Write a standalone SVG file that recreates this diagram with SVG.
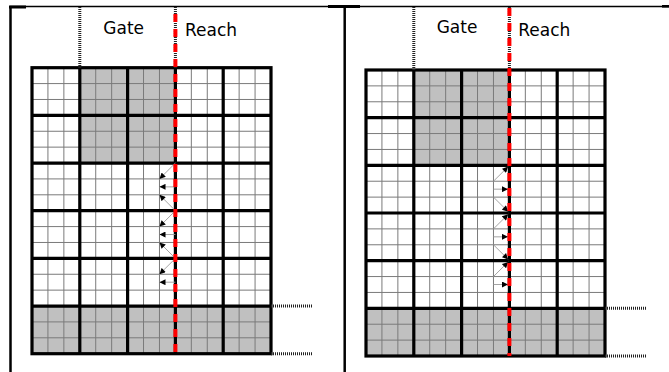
<svg xmlns="http://www.w3.org/2000/svg" width="669" height="372" viewBox="0 0 669 372">
<style>
.minor{stroke:#7a7a7a;stroke-width:1;fill:none}
.major{stroke:#000;stroke-width:3.2;fill:none}
.dot{stroke:#222;stroke-width:3;stroke-dasharray:1 1;fill:none}
.red{stroke:#ff0000;stroke-width:4;stroke-dasharray:8 7;fill:none}
.frame{stroke:#000;fill:none}
.arr{stroke:#9a9a9a;stroke-width:0.9;marker-end:url(#ah)}
.lbl{font-family:"DejaVu Sans",sans-serif;font-size:17px;fill:#000}
</style>
<defs>
<marker id="ah" viewBox="0 0 10 10" refX="10" refY="5" markerWidth="7" markerHeight="6" orient="auto" markerUnits="userSpaceOnUse">
<path d="M0,0 L10,5 L0,10 z" fill="#000"/>
</marker>
<g id="grid">
<rect x="47.8" y="0" width="95.6" height="95.33" fill="#c0c0c0"/>
<rect x="0" y="238.33" width="239" height="47.67" fill="#c0c0c0"/>
<path class="minor" d="M15.93,0V286 M31.87,0V286 M63.73,0V286 M79.67,0V286 M111.53,0V286 M127.47,0V286 M159.33,0V286 M175.27,0V286 M207.13,0V286 M223.07,0V286 M0,15.89H239 M0,31.78H239 M0,63.56H239 M0,79.44H239 M0,111.22H239 M0,127.11H239 M0,158.89H239 M0,174.78H239 M0,206.56H239 M0,222.44H239 M0,254.22H239 M0,270.11H239"/>
<path class="major" d="M47.8,0V286 M95.6,0V286 M143.4,0V286 M191.2,0V286 M0,47.67H239 M0,95.33H239 M0,143H239 M0,190.67H239 M0,238.33H239"/>
<rect class="major" x="0" y="0" width="239" height="286"/>
</g>
</defs>

<g id="frame">
<path class="frame" stroke-width="1.6" d="M10,6.5H669"/>
<rect x="9" y="5.5" width="17" height="3" fill="#000"/>
<rect x="328" y="5" width="32" height="3" fill="#000"/>
<rect x="662" y="5" width="7" height="2.6" fill="#000"/>
<path class="frame" stroke-width="2.5" d="M10.5,6V372"/>
<path class="frame" stroke-width="2.5" d="M344.7,7V372"/>
</g>

<g id="left-panel">
<use href="#grid" transform="translate(32,67.7)"/>
<path class="dot" d="M79.8,7V67.7 M175.4,7V67.7 M271,306H312 M271,353.7H312"/>
<g id="left-arrows" transform="translate(32,67.7)">
<line class="arr" x1="143.4" y1="95.33" x2="127.47" y2="111.22"/>
<line class="arr" x1="143.4" y1="119.17" x2="127.47" y2="119.17"/>
<line class="arr" x1="143.4" y1="143" x2="127.47" y2="127.11"/>
<line class="arr" x1="143.4" y1="143" x2="127.47" y2="158.89"/>
<line class="arr" x1="143.4" y1="166.83" x2="127.47" y2="166.83"/>
<line class="arr" x1="143.4" y1="190.67" x2="127.47" y2="174.78"/>
<line class="arr" x1="143.4" y1="190.67" x2="127.47" y2="206.56"/>
<line class="arr" x1="143.4" y1="214.5" x2="127.47" y2="214.5"/>
</g>
<path class="red" d="M175.4,14V354"/>
<text class="lbl" x="103.3" y="33.5">Gate</text>
<text class="lbl" x="185" y="36">Reach</text>
</g>

<g id="right-panel">
<use href="#grid" transform="translate(366,70)"/>
<path class="dot" d="M413.8,7V70 M509.4,7V70 M605,308.3H647 M605,356H647"/>
<g id="right-arrows" transform="translate(366,70)">
<line class="arr" x1="127.47" y1="111.22" x2="142.2" y2="96.6"/>
<line class="arr" x1="127.47" y1="119.17" x2="142" y2="119.17"/>
<line class="arr" x1="127.47" y1="127.11" x2="142.2" y2="141.7"/>
<line class="arr" x1="127.47" y1="158.89" x2="142.2" y2="144.3"/>
<line class="arr" x1="127.47" y1="166.83" x2="142" y2="166.83"/>
<line class="arr" x1="127.47" y1="174.78" x2="142.2" y2="189.4"/>
<line class="arr" x1="127.47" y1="206.56" x2="142.2" y2="191.9"/>
<line class="arr" x1="127.47" y1="214.5" x2="142" y2="214.5"/>
</g>
<path class="red" d="M509.4,8V356"/>
<text class="lbl" x="436.7" y="32.5">Gate</text>
<text class="lbl" x="518.3" y="35.7">Reach</text>
</g>
</svg>
